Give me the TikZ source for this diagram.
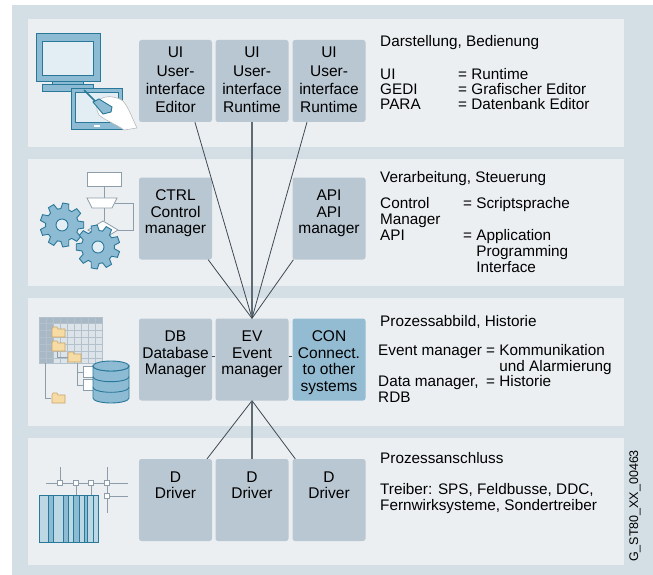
\documentclass[tikz,border=0pt]{standalone}
\usepackage{fontspec}
\setmainfont{Liberation Sans}
\usetikzlibrary{calc}

\definecolor{outerbg}{HTML}{D3DEE5}
\definecolor{panelbg}{HTML}{EBEFF2}
\definecolor{boxfill}{HTML}{B9C7D2}
\definecolor{confill}{HTML}{93BCD3}
\definecolor{wirec}{HTML}{3E4953}
\definecolor{trunkc}{HTML}{5E6A74}
\definecolor{iconfill}{HTML}{8DBBD3}
\definecolor{iconline}{HTML}{2A7899}
\definecolor{iconlight}{HTML}{E3EEF4}
\definecolor{chartline}{HTML}{8E9DAA}
\definecolor{folderfill}{HTML}{F6DBA4}
\definecolor{folderline}{HTML}{C9A468}
\definecolor{gridfill}{HTML}{DCE4EA}
\definecolor{griddark}{HTML}{A9B8C5}
\definecolor{gridline}{HTML}{B3C1CC}
\definecolor{rackfill}{HTML}{BCD8E5}

\tikzset{
  panel/.style={fill=panelbg},
  box/.style={fill=boxfill, rounded corners=2.5pt, minimum width=73pt,
    minimum height=82pt, inner sep=0pt},
  conbox/.style={box, fill=confill},
  boxtext/.style={anchor=north, align=center, inner sep=0pt,
    font=\fontsize{15.5}{16.5}\selectfont},
  uitext/.style={boxtext, font=\fontsize{15.5}{18.2}\selectfont},
  rtext/.style={anchor=base west, inner sep=0pt,
    font=\fontsize{15.3}{16}\selectfont},
  wire/.style={draw=wirec, line width=0.8pt},
  trunk/.style={draw=trunkc, line width=1.5pt},
  iconpart/.style={draw=iconline, fill=iconfill, line width=0.9pt},
  chart/.style={draw=chartline, line width=0.8pt},
  folder/.pic={
    \draw[draw=folderline, fill=folderfill, line width=0.6pt]
      (0,2) -- (0,10) -- (13,10) -- (13,2) -- (6,2) -- (5,0) -- (1,0) -- cycle;
  },
  gear/.pic={
    \draw[iconpart] (-14:16.5)
      \foreach \i in {0,...,8}{ -- (\i*40-14:16.5) -- (\i*40-8:22) -- (\i*40+8:22) -- (\i*40+14:16.5) }
      -- cycle;
    \draw[draw=iconline, fill=iconlight, line width=0.9pt] (0,0) circle (6);
  }
}

\begin{document}
\begin{tikzpicture}[x=1pt, y=-1pt]
\useasboundingbox (0,0) rectangle (653,575);

% frame and the four layers
\fill[outerbg] (12,5) rectangle (653,575);
\fill[panel] (28,19) rectangle (624,147);
\fill[panel] (28,159) rectangle (624,286);
\fill[panel] (28,298) rectangle (624,426);
\fill[panel] (28,438) rectangle (624,565);

% manager boxes
\node[box] (ui1) at (175.5,81) {};
\node[box] (ui2) at (252,81) {};
\node[box] (ui3) at (329,81) {};
\node[box] (ctrl) at (175.5,218.5) {};
\node[box] (api) at (329,218.5) {};
\node[box] (db) at (175.5,359.5) {};
\node[box] (ev) at (252,359.5) {};
\node[conbox] (con) at (329,359.5) {};
\node[box] (d1) at (175.5,500) {};
\node[box] (d2) at (252,500) {};
\node[box] (d3) at (329,500) {};

% connections through the event manager
\draw[wire] (ev.north) -- ($(ui1.south)!0.53!(ui1.south east)$);
\draw[trunk] (ev.north) -- (ui2.south);
\draw[wire] (ev.north) -- ($(ui3.south)!0.6!(ui3.south west)$);
\draw[wire] (ev.north) -- ($(ctrl.south)!0.89!(ctrl.south east)$);
\draw[wire] (ev.north) -- ($(api.south)!0.97!(api.south west)$);
\draw[wire] (ev.south) -- ($(d1.north)!0.86!(d1.north east)$);
\draw[trunk] (ev.south) -- (d2.north);
\draw[wire] (ev.south) -- ($(d3.north)!0.92!(d3.north west)$);
\draw[wire] ([yshift=3.5pt]db.east) -- ([yshift=3.5pt]ev.west);
\draw[wire] ([yshift=3.5pt]ev.east) -- ([yshift=3.5pt]con.west);

% box captions
\node[uitext] (ui1t) at ([yshift=-7.3pt]ui1.north) {UI\\User-\\interface\\Editor};
\node[uitext] (ui2t) at ([yshift=-7.3pt]ui2.north) {UI\\User-\\interface\\Runtime};
\node[uitext] (ui3t) at ([yshift=-7.3pt]ui3.north) {UI\\User-\\interface\\Runtime};
\node[boxtext] (ctrlt) at ([yshift=-12.5pt]ctrl.north) {CTRL\\Control\\manager};
\node[boxtext] (apit) at ([yshift=-12.5pt]api.north) {API\\API\\manager};
\node[boxtext] (dbt) at ([yshift=-12.5pt]db.north) {DB\\Database\\Manager};
\node[boxtext] (evt) at ([yshift=-12.5pt]ev.north) {EV\\Event\\manager};
\node[boxtext] (cont) at ([yshift=-12.5pt]con.north) {CON\\Connect.\\to other\\systems};
\node[boxtext] (d1t) at ([yshift=-12.5pt]d1.north) {D\\Driver};
\node[boxtext] (d2t) at ([yshift=-12.5pt]d2.north) {D\\Driver};
\node[boxtext] (d3t) at ([yshift=-12.5pt]d3.north) {D\\Driver};

% layer descriptions
\node[rtext] (p1h) at (380,47) {Darstellung, Bedienung};
\node[rtext] (p1a) at (380,79.5) {\makebox[78pt][l]{UI}= Runtime};
\node[rtext] (p1b) at (380,94.5) {\makebox[78pt][l]{GEDI}= Grafischer Editor};
\node[rtext] (p1c) at (380,109.5) {\makebox[78pt][l]{PARA}= Datenbank Editor};

\node[rtext] (p2h) at (380,182.5) {Verarbeitung, Steuerung};
\node[rtext] (p2a) at (380,208.5) {\makebox[83pt][l]{Control}= Scriptsprache};
\node[rtext] (p2b) at (380,224) {Manager};
\node[rtext] (p2c) at (380,240) {\makebox[83pt][l]{API}= Application};
\node[rtext] (p2d) at (380,256) {\hspace*{83pt}\phantom{= }Programming};
\node[rtext] (p2e) at (380,272) {\hspace*{83pt}\phantom{= }Interface};

\node[rtext] (p3h) at (380,326.5) {Prozessabbild, Historie};
\node[rtext] (p3a) at (378,355.5) {Event manager = Kommunikation};
\node[rtext] (p3b) at (378,371) {\phantom{Event manager = }und Alarmierung};
\node[rtext] (p3c) at (378,386.5) {\rlap{Data manager,}\phantom{Event manager }= Historie};
\node[rtext] (p3d) at (378,402) {RDB};

\node[rtext] (p4h) at (380,463.5) {Prozessanschluss};
\node[rtext] (p4a) at (380,494.5) {Treiber: SPS, Feldbusse, DDC,};
\node[rtext] (p4b) at (380,510.5) {Fernwirksysteme, Sondertreiber};

\node[rotate=90, inner sep=0pt, font=\fontsize{12.5}{13}\selectfont] (code)
  at (635,506) {G\_ST80\_XX\_00463};

% --- icon: monitor with touch panel
\draw[iconpart] (36,33) rectangle (100,81);
\draw[draw=iconline, fill=iconlight, line width=0.6pt] (42,41) rectangle (93,75);
\draw[iconpart] (52,81) rectangle (83,84);
\draw[iconpart] (42,84) rectangle (93,91);
\draw[iconpart] (71,88) rectangle (122,129);
\draw[draw=iconline, fill=iconlight, line width=0.6pt] (75,92) rectangle (118,122);
\fill[white] (94,125) rectangle (100,127);
\draw[draw=iconline, line width=1.6pt] (84,90) -- (97,103);
\draw[draw=gray!55, fill=white, line width=0.6pt]
  (99,100) .. controls (105,95) and (116,96) .. (123,101)
  .. controls (129,108) and (132,118) .. (137,128) -- (124,130)
  .. controls (116,124) and (106,121) .. (99,115)
  .. controls (96,110) and (96,104) .. (99,100) -- cycle;
\draw[iconpart] (93,102) -- (99,99) -- (112,107) -- (111,112) -- (103,114) -- cycle;

% --- icon: flow chart and gears
\draw[chart, fill=white] (87,172) rectangle (121,186);
\draw[chart] (104,186) -- (104,198);
\draw[chart, fill=white] (87,198) -- (117,198) -- (112,208) -- (92,208) -- cycle;
\draw[chart] (104,208) -- (104,221);
\draw[chart] (115,203) -- (133,203) -- (133,230) -- (118,230);
\draw[chart, fill=white] (103,221) -- (118,230) -- (103,239) -- (88,230) -- cycle;
\pic at (62,225) {gear};
\pic[rotate=20] at (98,247) {gear};

% --- icon: data grid, folders and database
\fill[gridfill] (39,317) rectangle (102,363);
\fill[griddark] (39,317) rectangle (53,363);
\fill[griddark] (39,317) rectangle (102,323);
\foreach \gx in {46,53,...,95} \draw[gridline, line width=0.6pt] (\gx,317) -- (\gx,363);
\foreach \gy in {323,330,...,358} \draw[gridline, line width=0.6pt] (39,\gy) -- (102,\gy);
\draw[gridline, line width=0.6pt] (39,317) rectangle (102,363);
\draw[chart] (45,363) -- (45,398) -- (51,398);
\draw[chart] (57,347) -- (57,357) -- (68,357);
\draw[chart] (77,363) -- (77,385) -- (84,385);
\draw[chart] (77,372) -- (84,372);
\draw[chart, fill=white] (83,366) rectangle (93,377);
\draw[chart, fill=white] (83,379) rectangle (93,390);
\pic at (52,327) {folder};
\pic at (52,341) {folder};
\pic at (68,352) {folder};
\pic at (52,393) {folder};
\draw[iconpart] (93,366) -- (93,398) arc[start angle=180, end angle=0, x radius=18, y radius=5]
  -- (129,366) arc[start angle=0, end angle=180, x radius=18, y radius=5] -- cycle;
\draw[draw=iconline, line width=0.9pt] (93,376.7) arc[start angle=180, end angle=0, x radius=18, y radius=5];
\draw[draw=iconline, line width=0.9pt] (93,387.3) arc[start angle=180, end angle=0, x radius=18, y radius=5];
\draw[iconpart] (111,366) ellipse [x radius=18, y radius=5];

% --- icon: field bus and controller rack
\draw[chart] (46,483) -- (128,483);
\draw[chart] (107,496) -- (128,496);
\draw[chart] (60,467) -- (60,483);
\draw[chart] (107,467) -- (107,513);
\draw[chart] (76,483) -- (76,495);
\draw[chart] (91,483) -- (91,495);
\draw[draw=iconline, fill=rackfill, line width=0.9pt] (39,495) rectangle (98,542);
\foreach \sa/\sb in {48/53, 63/68, 73/79, 84/87}
  \draw[draw=iconline, fill=iconfill, line width=0.7pt] (\sa,495) rectangle (\sb,542);
\draw[draw=iconline, line width=0.7pt] (93,495) -- (93,542);
\foreach \px/\py in {60/483, 76/483, 91/483, 107/483, 107/496}
  \draw[chart, fill=white] (\px-2.5,\py-2.5) rectangle (\px+2.5,\py+2.5);
\end{tikzpicture}
\end{document}
